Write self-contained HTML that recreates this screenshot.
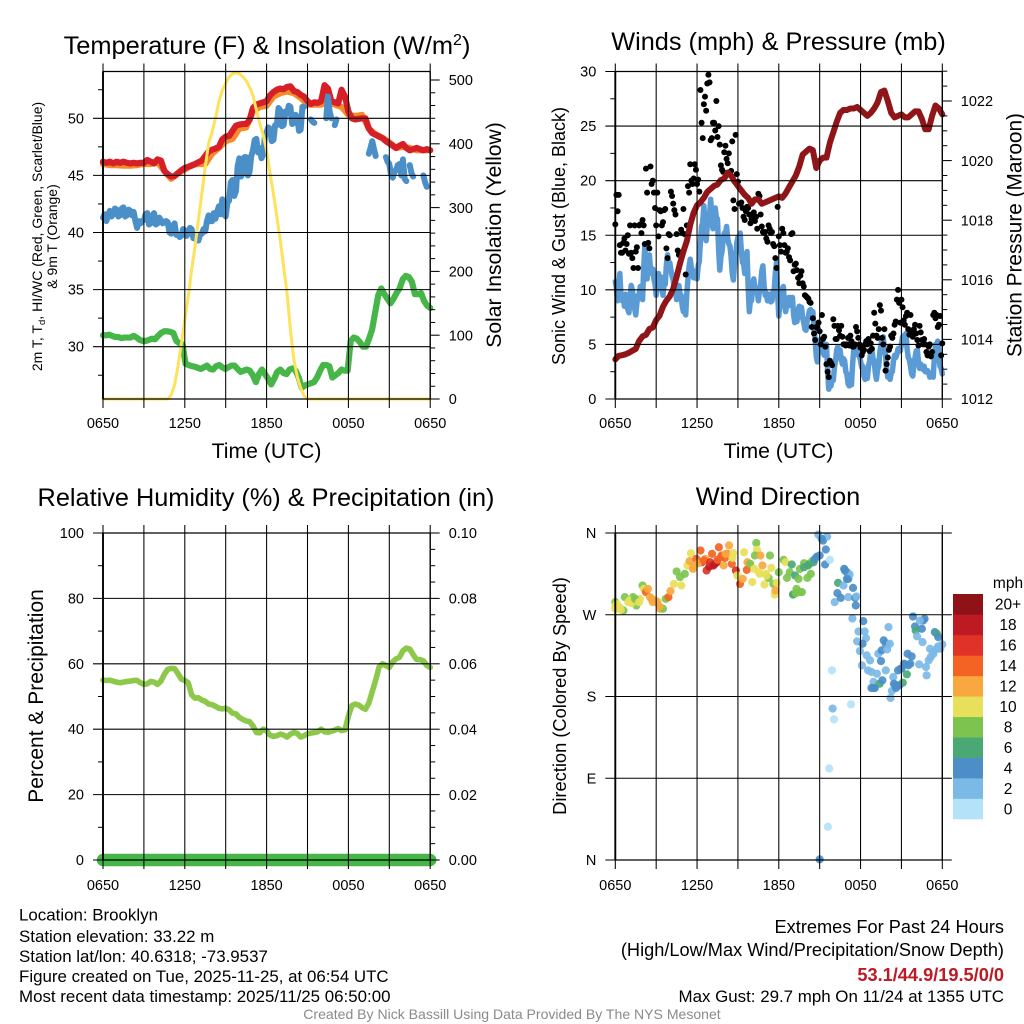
<!DOCTYPE html>
<html lang="en">
<head>
<meta charset="utf-8">
<title>NYS Mesonet Meteogram - Brooklyn</title>
<style>
html,body{margin:0;padding:0;background:#fff}
svg{display:block}
text{font-family:"Liberation Sans",sans-serif;fill:#000}
</style>
</head>
<body>
<svg id="chart" xmlns="http://www.w3.org/2000/svg" width="1024" height="1024" viewBox="0 0 1024 1024">
<rect x="0" y="0" width="1024" height="1024" fill="#fff"/>

<text x="267" y="54" font-size="25.4" text-anchor="middle">Temperature (F) &amp; Insolation (W/m<tspan dy="-9" font-size="16">2</tspan><tspan dy="9">)</tspan></text>
<text x="778.5" y="50" font-size="25.3" text-anchor="middle">Winds (mph) &amp; Pressure (mb)</text>
<text x="266" y="506" font-size="25.3" text-anchor="middle">Relative Humidity (%) &amp; Precipitation (in)</text>
<text x="778" y="505" font-size="25.3" text-anchor="middle">Wind Direction</text>

<text transform="translate(42,236.5) rotate(-90)" font-size="14" text-anchor="middle">2m T, T<tspan dy="3" font-size="9.5">d</tspan><tspan dy="-3">, HI/WC (Red, Green, Scarlet/Blue)</tspan></text>
<text transform="translate(57,236.5) rotate(-90)" font-size="14" text-anchor="middle">&amp; 9m T (Orange)</text>
<text transform="translate(501,235) rotate(-90)" font-size="21.1" text-anchor="middle">Solar Insolation (Yellow)</text>
<text transform="translate(565,236) rotate(-90)" font-size="18" text-anchor="middle">Sonic Wind &amp; Gust (Blue, Black)</text>
<text transform="translate(1021.5,235) rotate(-90)" font-size="20.8" text-anchor="middle">Station Pressure (Maroon)</text>
<text transform="translate(43,696) rotate(-90)" font-size="21" text-anchor="middle">Percent &amp; Precipitation</text>
<text transform="translate(566,696) rotate(-90)" font-size="18.3" text-anchor="middle">Direction (Colored By Speed)</text>

<text x="266.5" y="458" font-size="21.2" text-anchor="middle">Time (UTC)</text>
<text x="778.5" y="458" font-size="21.2" text-anchor="middle">Time (UTC)</text>

<g>
<text x="19" y="920.5" font-size="16.9">Location: Brooklyn</text>
<text x="19" y="942" font-size="16.9">Station elevation: 33.22 m</text>
<text x="19" y="962" font-size="16.9">Station lat/lon: 40.6318; -73.9537</text>
<text x="19" y="982" font-size="16.9">Figure created on Tue, 2025-11-25, at 06:54 UTC</text>
<text x="19" y="1002" font-size="16.9">Most recent data timestamp: 2025/11/25 06:50:00</text>
</g>
<g>
<text x="1004" y="933" font-size="18.2" text-anchor="end">Extremes For Past 24 Hours</text>
<text x="1004" y="956" font-size="18.2" text-anchor="end">(High/Low/Max Wind/Precipitation/Snow Depth)</text>
<text x="1004" y="981" font-size="18.2" font-weight="bold" text-anchor="end" style="fill:#bd1a24">53.1/44.9/19.5/0/0</text>
<text x="1004" y="1002" font-size="16.9" text-anchor="end">Max Gust: 29.7 mph On 11/24 at 1355 UTC</text>
</g>
<text x="512" y="1019" font-size="14.05" text-anchor="middle" style="fill:#8a8a8a">Created By Nick Bassill Using Data Provided By The NYS Mesonet</text>
<text x="1008" y="588" font-size="15.5" text-anchor="middle">mph</text>
</svg>

<script>
// ---- shared axis labels ----
const timeTickLabels = ['0650', '1250', '1850', '0050', '0650'];
const timeTickHours = [0, 6, 12, 18, 24];
const timeGridHours = [0, 3, 6, 9, 12, 15, 18, 21, 24];

// ---- temperature panel (samples spaced evenly over 24 h) ----
const airTempValues = [46.2,46.1,46.2,46.05,46.2,46.1,46.2,46.1,46.05,46.1,46.05,46.1,46.1,46.35,46.2,46.05,46.4,46.3,45.4,45.1,44.9,44.95,45.2,45.45,45.65,45.75,45.85,46,46.15,46.3,46.7,47.1,47.25,47.35,47.5,48.15,48.4,48.45,48.9,49.35,49.45,49.5,49.5,49.85,50.9,51.2,51.3,51.4,51.5,52,52.3,52.5,52.6,52.55,52.75,52.8,52.4,52.3,52.05,51.9,51.5,51.25,51.4,51.35,51.5,52.9,52.6,51.5,51.4,51.3,52.5,51.9,50.6,50,49.9,49.95,50,50,49.1,48.7,48.55,48.4,48.25,48,47.8,47.6,47.4,47.6,47.75,47.4,47.2,47.3,47.4,47.3,47.2,47.3,47.2];
const nineMeterTempValues = [46.0,45.9,45.9,45.85,45.85,45.9,46,46,46.15,45.4,44.7,45.2,45.5,45.9,46,46,46.9,47.4,48,48.2,49.1,49.2,50.6,51,51.1,51.9,52.2,52.35,52.2,51.8,51.2,51.2,51.2,51.4,51.2,51,50.3,50.2,50.3,49.1,48.6,48.3,47.9,47.4,47.5,47.4,47.2,47.2,47.2];
const windChillValues = [41.3,41.6,41.0,41.5,41.9,41.4,41.6,42.1,42.0,41.4,41.5,42.1,42.2,41.4,41.5,42,41.9,41.5,41.8,41,40.4,41,40.8,41,41.1,41.6,41.7,40.7,40.8,41.5,41.7,40.7,40.8,41.3,41.1,40.8,40.9,41,40.9,40,39.9,40.6,40.8,39.8,39.8,39.6,39.7,40.3,40.2,39.7,39.9,40.4,40.3,39.5,39.7,39.3,39.3,39.8,39.9,40.3,40.1,41,41.5,41,41.0,41.7,41.2,41.8,42.3,41.6,42.9,41.6,41.4,42.6,42.8,44.4,44.6,43.2,43.6,45.8,46.5,44.9,45.2,46.6,46.6,45,45.3,46.7,47.2,48.1,48.2,47,47.4,46.5,46.8,48.4,48.8,49.2,49.1,48,48.1,49.4,49.4,50.9,50.7,49.3,49.4,50.6,50.4,51.1,51.0,49.5,49.6,50.3,50.1,48.9,49.0,51.0,51.0,null,null,null,49.9,49.7,49.6,null,null,null,null,null,null,50.0,51.9,50.6,50.0,null,49.4,49.9,null,null,null,null,null,null,null,null,null,null,null,null,null,null,null,null,null,null,46.9,47.4,48,47.3,46.7,null,null,null,null,null,46.6,46.2,46,45.1,44.8,45.3,45.5,45.9,46,45,46.4,44.7,44.5,null,45.9,45.2,44.9,null,null,null,null,null,45,44.4,44,null,null];
const dewPointValues = [31,31,31.05,30.95,30.85,30.85,30.75,30.8,30.8,30.8,30.95,30.8,30.6,30.5,30.5,30.6,30.7,30.65,30.95,31.2,31.35,31.35,31.3,31.2,30.5,30.3,30.2,28.5,28.4,28.3,28.25,28.15,28.05,28.2,28.35,28.05,28.0,28.3,28.4,28.2,28.05,28.2,28.35,28.35,28.05,27.8,27.9,28.0,27.9,27.5,26.9,27.6,28.0,27.6,27.2,26.7,27.2,27.8,28.0,27.7,27.6,28,28.1,27.9,27.3,26.4,26.6,26.7,26.8,26.9,27.3,27.9,28.4,28.4,28.3,27.3,27.5,27.7,28.0,27.9,27.9,30.5,30.8,30.7,30.4,30.0,30.0,30.7,31.5,33,34.5,35.1,34.6,34.2,33.8,34.2,34.7,35.1,35.9,36.2,36.1,35.7,34.6,34.6,34.7,34.0,33.6,33.4];
const solarValues = [0,0,0,0,0,0,0,0,0,0,0,0,0,0,0,0,0,0,0,0,6,22,51,87,124,160,202,239,281,322,364,401,419,440,466,484,495,505,510,511,510,505,499,489,476,453,432,414,390,354,322,286,249,207,166,108,61,35,17,5,0,0,0,0,0,0,0,0,0,0,0,0,0,0,0,0,0,0,0,0,0,0,0,0,0,0,0,0,0,0,0,0,0,0,0,0,0];
const tempMajorTicks = [30, 35, 40, 45, 50];
const tempMinorTicks = [27.5, 32.5, 37.5, 42.5, 47.5, 52.5];
const solarMajorTicks = [0, 100, 200, 300, 400, 500];
const solarMinorTicks = [20,40,60,80,120,140,160,180,220,240,260,280,320,340,360,380,420,440,460,480];

// ---- winds and pressure panel ----
const sonicWindValues = [10.75,10.2,9,10.3,11.5,9.5,9,9.4,8.5,9.6,9.1,8.2,7.9,9.2,10.4,10,9,8.3,7.7,8.8,9.5,9.6,10.3,9.8,9.1,12,14,12.1,11,12.6,13.2,12,11.5,11.9,11,10.5,9.5,10.3,11.5,10.8,11.2,10.2,9.5,10.6,10.5,12.3,13.2,12.2,12.5,11.8,11.3,10.9,10,9.9,9.1,10.2,10.4,9.6,9.5,8.5,8,8.4,7.7,9.7,11,12.2,12.8,12,11.8,11.1,11.2,11.5,11,12.2,12.6,14.5,15.8,16.2,17.7,15.8,14.5,15.9,16.7,16.9,18.3,16.5,15.6,16.9,17.5,16.6,16.5,13.7,11.8,13,13.5,14.7,15.2,15.1,15.8,14.7,14.2,14,13,11.5,10.9,12.3,13,14.3,14.8,14.5,15.2,13.5,12.5,12.4,11.5,12.9,13.5,10.3,8,9,9,10.4,11,10.1,10,9.9,9,10,10.5,11.7,12.2,10.4,9.5,9.7,9,9.6,9.5,8.9,9,9.9,10,11.6,12.5,9.6,7.6,8.7,9,10,10.3,8.8,8,8.6,8.5,9.3,9.3,8.8,9.3,7.8,7,7.6,7.1,8.1,8.5,8.2,8.4,7.4,7,6.4,6.3,7.2,7.5,8.1,8.2,7.8,8,6.4,5.5,3.9,3.4,4.6,5,5.5,5.2,4.3,4,4.8,5,2.5,0.9,1.4,1.2,1.9,1.7,2.9,3.5,4.5,4.8,4.3,4.5,3.6,3.2,3.7,3.5,2.5,2.3,1.4,1.2,1.6,1.3,3.2,4.5,5,4.9,4.2,4,3.9,3.5,2.9,3,2.1,1.8,2.2,1.9,3,3.5,4.3,4.5,3.7,3.5,2.4,1.8,2.7,3,4.3,5,5.6,5.7,4.5,4,2.7,2,2.2,1.8,2.4,2.5,3.5,4,3.8,4.1,4.6,4.5,4.4,5,5.7,5.8,5.6,6,4.6,3.8,3.6,3,2.3,2.1,3.2,3.8,4.4,4.5,3.4,2.8,3.2,2.9,2.7,3,2.5,2.5,2.6,2.4,2,2.1,2.3,2,3.8,5,5,5.3,3.9,3,2.8,2.3];
const gustValues = [16.0,18.7,17.2,18.7,14.1,13.4,13.4,14.3,14.7,13.6,14.2,15,13.3,15.9,13.4,12.9,12,15.9,13.5,13.9,12,15.9,16,15.2,16.4,15.9,14.2,21.1,18.9,14.3,13.8,21.3,19.7,20,18.9,17.5,15.9,18.9,14.9,17.3,17.2,15.9,16.2,17.3,17.4,13.8,12.9,15.1,15,19,18.6,17.9,17.3,16.9,15.1,13.6,13.2,13.4,15.5,15.2,17.4,15.1,11.4,15.9,19.5,18.9,21.5,20,19.7,20.2,21.5,21,19.7,20.1,19,28.3,25.3,23.9,27,27.7,26.4,28.9,29.7,29.0,23.7,23.9,25.3,25.3,24.6,27.3,24,25,23.3,21.4,21,20.8,22.6,23.2,22,21.6,22.5,20.6,20.9,23.6,18.2,17.4,24.2,20.6,19.9,17.9,19.2,18.0,17.5,16.7,16.4,17.2,17.6,17.5,16.9,16.1,16.5,16.9,17.1,16.3,16.7,15.6,18.8,18.6,16.9,15.8,15.3,15.2,15.3,14.7,14.4,15.9,15.6,15.2,15.3,14.2,14.0,12.9,12.0,17.6,14.9,14.1,13.5,15.6,15.2,14.1,13.4,13.5,13.8,13.0,12.7,15.1,15.2,11.7,12.3,12.4,11.8,11.1,10.6,11.3,11.7,10.6,10.3,9.5,9.4,9.3,9.2,8.9,8.8,6.6,7.4,6.0,5.4,6.6,6.5,7.0,6.2,5.0,7.7,5.5,5.7,4.8,3.2,2.5,2.0,3.5,3.3,3.1,7.3,6.7,5.5,5.5,6.7,6.3,5.8,6.7,5.7,5.0,5.0,4.9,5.0,5.6,4.9,5.8,5.3,4.8,4.8,5.0,6.6,6.2,5.6,5.0,4.7,4.0,4.3,4.5,5.0,5.3,5.0,5.5,4.4,5.1,4.6,5.8,7.9,6.9,5.8,5.6,6.4,8.6,8.1,5.6,5.0,6.4,2.6,3.2,3.8,4.5,4.8,5.8,5.6,6.0,6.8,7.1,9.1,10,8.8,7.0,9.1,8.4,7.2,6.8,7.6,7.9,6.4,5.9,7.7,6.2,5.7,6.4,6.8,6.0,5.4,4.9,6.7,6.1,5.4,5.0,5.5,5.0,4.3,4.0,4.8,5.0,3.9,4.3,7.7,7.9,7.4,7.7,6.6,6.8,7.6,4.0,5.1];
const pressureValues = [1013.33,1013.45,1013.47,1013.5,1013.55,1013.62,1013.68,1013.95,1014.1,1014.15,1014.35,1014.4,1014.65,1014.8,1015.1,1015.3,1015.45,1015.7,1016.1,1016.55,1016.95,1017.3,1017.85,1018.25,1018.5,1018.6,1018.75,1018.95,1019.05,1019.15,1019.2,1019.35,1019.4,1019.6,1019.5,1019.3,1019.15,1019.0,1018.85,1018.75,1018.55,1018.7,1018.7,1018.55,1018.6,1018.65,1018.7,1018.75,1018.8,1018.75,1018.9,1019.1,1019.3,1019.5,1019.8,1020.2,1020.3,1020.4,1020.35,1019.75,1020,1020.1,1020.1,1020.6,1020.95,1021.3,1021.6,1021.7,1021.7,1021.75,1021.75,1021.8,1021.7,1021.6,1021.5,1021.6,1021.75,1021.95,1022.3,1022.35,1022,1021.6,1021.45,1021.5,1021.55,1021.45,1021.45,1021.55,1021.65,1021.65,1021.4,1021.05,1021.05,1021.5,1021.85,1021.75,1021.55];
const windMajorTicks = [0, 5, 10, 15, 20, 25, 30];
const windMinorTicks = [2.5, 7.5, 12.5, 17.5, 22.5, 27.5];
const pressureMajorTicks = [1012, 1014, 1016, 1018, 1020, 1022];
const pressureMinorTicks = [1012.5,1013,1013.5,1014.5,1015,1015.5,1016.5,1017,1017.5,1018.5,1019,1019.5,1020.5,1021,1021.5,1022.5,1023];

// ---- humidity and precipitation panel ----
const humidityValues = [55,54.9,55,54.7,54.4,54.2,54.4,54.6,54.7,54.9,54.9,54.2,53.7,53.9,54.6,54.4,53.7,54.7,56.8,58.3,58.6,58.5,57,55.3,54.9,54.2,50.5,49.5,49.6,48.9,48.5,47.7,47.5,47,46.4,46.2,46.4,45.9,44.9,44.7,43.6,43,42.5,42.3,41,39,38.9,40,39.5,38.2,37.8,38,38.5,38.2,37.6,38.5,39,38.7,37.6,38,38.6,38.8,39,39.2,40,39.2,39.1,39.4,39.7,40.2,39.6,39.8,44,47.2,47.7,47.4,46.6,46.1,48,51.5,55,59,60,59.5,58.9,60.6,61.5,62,64,64.8,64.5,62.8,61.3,61.3,60.9,59.5,58.9];
const precipValues = [0,0,0,0,0,0,0,0,0,0,0,0,0,0,0,0,0,0,0,0,0,0,0,0,0];
const percentMajorTicks = [0, 20, 40, 60, 80, 100];
const percentMinorTicks = [10, 30, 50, 70, 90];
const precipMajorTicks = [0, 0.02, 0.04, 0.06, 0.08, 0.1];
const precipTickLabels = ['0.00', '0.02', '0.04', '0.06', '0.08', '0.10'];
const precipMinorTicks = [0.005,0.01,0.015,0.025,0.03,0.035,0.045,0.05,0.055,0.065,0.07,0.075,0.085,0.09,0.095];

// ---- wind direction panel ----
const dirHours = [0,0,0.15,0.35,0.6,0.7,0.95,1.2,1.3,1.55,1.8,2,2.1,2.25,2.4,2.65,2.9,3.1,3.3,3.5,3.7,3.9,4.05,4.3,4.5,4.75,4.85,5.1,5.3,5.55,5.7,5.45,5.95,6.25,6.35,6.6,6.7,6.9,7.1,7.3,7.45,7.6,7.8,7.95,8.2,8.35,8.55,8.65,8.85,8.95,9.15,9.35,9.45,9.65,9.7,9.9,10.05,10.2,10.35,10.4,10.25,10.65,10.8,10.6,10.95,11.05,11.25,11.35,11.45,11.6,11.7,11.75,11.85,12,12.35,12.5,12.6,12.8,12.95,13.05,13.2,13.3,13.45,13.55,13.7,13.85,14.1,14.35,14.25,14.45,14.8,14.9,15,15.25,15.4,15.45,15.55,15.75,15.6,15.7,15.9,15.95,16.05,17.3,16.1,16.3,16.35,16.55,16.75,16.8,17,17.1,17.2,17.1,17.45,17.6,17.65,17.7,17.4,17.85,18.2,18.3,18.4,17.75,18.15,17.95,18.45,18.7,18.1,18.55,18.8,19.2,18.95,19.4,18.8,19.05,19.6,19.3,19.55,19.5,19.7,19.85,20.15,19.95,20.05,19.85,20.2,20.3,20.4,20.45,20.6,20.75,20.85,21.1,21,21.2,21.4,21.5,21.45,21.75,21.85,22,22.05,22.15,22.3,22.5,22.6,22.7,22.55,22.85,22.8,23.1,23.15,23.35,23.45,23.6,23.7,23.85,24,0,0.1,0.2,0.4,1.05,1.2,1.45,1.75,2.55,2.75,3.05,3.25,5.75,6.1,6.5,6.95,7.2,7.5,7.75,8.05,8.1,8.6,10.55,11.1,13.05,13.25,13.55,13.85,14.15,14.55,14.65,15,15.15,16.85,17,18.95,20.55,20.7,20.95,21.25,21.65,23,23.3,23.6,23.7,22.35];
const dirDegrees = [276.6,283.9,280,277.7,274.7,289.4,283.9,285.7,289.4,280.2,287.5,302.2,298.5,294.9,298.5,287.5,285.7,284.6,276.6,276.6,287.5,289.4,296,304,317.6,311.4,302.2,315,324.2,337.7,320.5,329,331.5,340.7,327.8,331.5,318.7,323,337,326,327.8,344.3,335.2,324.2,337,346.2,326,338,318.7,313.2,304,309.5,338.8,319.4,327.8,326,305.9,320.5,349,341.4,335.2,335.2,324.2,315,303.3,315,310.6,335.2,321.6,304,292.3,296.7,305.1,316.8,330.4,327.8,310.6,316.8,325.3,292.3,313.2,298.5,309.5,320.5,294.9,326.7,310.6,315,326,329,334,358.2,0.7,351.6,325.3,341.8,356,330.4,36.6,100.7,208.8,166.7,154.9,171.4,283.9,293.8,305.1,288.6,302.2,320.5,316.8,309.5,314.3,289.4,299.6,288.6,280.2,290.1,265.9,251.6,263,251.6,244.3,240.7,238.1,230,225.3,219.8,214.3,208.8,207,205.1,196,194.1,189.4,189.4,197.8,227.1,230.8,219,241.8,238.1,238.1,231.9,256.4,208.8,178.4,186.1,201.5,194.1,189.4,208.8,192.3,195.2,210.6,216.1,204.4,214.3,227.1,224.2,268.1,257.1,252.7,246.2,215.4,254.6,263.7,265.6,239.9,203.3,212.5,232.6,223.4,227.1,250.9,249.1,245.4,232.6,237.4,279.1,282,277.7,275.5,285.7,282.8,287.5,283.9,289.4,283.9,283.9,279.1,324.2,326.7,329.7,327.8,324.2,330.4,333.3,332.6,337,332.6,316.8,313.2,292.3,293.8,294.9,322.3,324.2,327.8,331.5,335.2,353.5,318.7,309.5,189.4,192.3,192.3,210.6,215.4,216.1,219.8,228.9,232.6,235.2,263.7];
const dirSpeeds = [10,8,10,10,8,8,10,10,8,8,10,8,10,14,12,12,12,10,12,8,8,14,12,10,8,8,10,8,10,10,12,12,14,14,16,12,16,18,14,18,18,14,14,12,14,12,14,10,16,10,14,12,10,14,12,8,10,10,8,10,8,12,12,10,10,10,8,8,10,8,10,12,10,8,8,10,8,8,6,8,6,8,8,8,8,8,8,8,6,8,4,2,4,4,4,4,2,0,0,0,0,2,0,0,2,4,6,4,2,4,4,4,2,2,4,4,4,2,2,2,4,2,2,2,4,2,2,2,2,2,2,2,2,6,4,4,4,2,4,4,4,4,2,2,2,2,2,2,2,4,4,4,4,6,4,4,6,4,4,4,4,4,6,2,2,4,4,4,2,2,2,2,2,2,4,6,4,2,2,10,10,10,10,10,10,8,10,12,12,12,12,12,12,14,16,18,14,14,14,12,10,10,10,6,8,8,6,6,6,4,4,4,4,4,4,4,4,4,4,4,2,2,2,2,2];
const directionTicks = [0, 90, 180, 270, 360];
const directionLabels = ['N', 'E', 'S', 'W', 'N'];

// ---- speed colour bar ----
const speedColors = ['#b3e2f9', '#7bb9e6', '#4b8ec8', '#4aa874', '#7cc44f', '#e8e05a', '#f9a83f', '#f46324', '#e03226', '#bd1a24', '#8f1216'];
const speedBarLabels = ['0', '2', '4', '6', '8', '10', '12', '14', '16', '18', '20+'];

const SVGNS = 'http://www.w3.org/2000/svg';
const svg = document.getElementById('chart');

function addLine(parent, x1, y1, x2, y2, width, name) {
  const el = document.createElementNS(SVGNS, 'line');
  
  
  el.setAttribute('x1', x1);
  el.setAttribute('y1', y1);
  el.setAttribute('x2', x2);
  el.setAttribute('y2', y2);
  el.setAttribute('stroke', '#000');
  el.setAttribute('stroke-width', width);
  parent.appendChild(el);
  return el;
}

function addText(parent, x, y, str, anchor, name) {
  const el = document.createElementNS(SVGNS, 'text');
  
  
  el.setAttribute('x', x);
  el.setAttribute('y', y);
  el.setAttribute('font-size', '14.5');
  el.setAttribute('text-anchor', anchor);
  el.textContent = str;
  parent.appendChild(el);
  return el;
}

function addGroup(name) {
  const el = document.createElementNS(SVGNS, 'g');
  
  
  svg.appendChild(el);
  return el;
}

// Draws a series sampled uniformly over 24 h; null values break the line.
function addSeries(parent, values, xOf, yOf, color, width, name) {
  let d = '';
  let open = false;
  values.forEach(function (v, i) {
    if (v === null) { open = false; return; }
    const x = xOf(i * 24 / (values.length - 1)).toFixed(2);
    const y = yOf(v).toFixed(2);
    d += (open ? 'L' : 'M' + x + ' ' + y + 'L') + x + ' ' + y;
    open = true;
  });
  const el = document.createElementNS(SVGNS, 'path');
  
  
  el.setAttribute('d', d);
  el.setAttribute('fill', 'none');
  el.setAttribute('stroke', color);
  el.setAttribute('stroke-width', width);
  el.setAttribute('stroke-linecap', 'round');
  el.setAttribute('stroke-linejoin', 'round');
  parent.appendChild(el);
  return el;
}

function addDot(parent, cx, cy, r, color, opacity, name) {
  const el = document.createElementNS(SVGNS, 'circle');
  
  
  el.setAttribute('cx', cx);
  el.setAttribute('cy', cy);
  el.setAttribute('r', r);
  el.setAttribute('fill', color);
  el.setAttribute('fill-opacity', opacity);
  parent.appendChild(el);
  return el;
}

function linear(d0, d1, r0, r1) {
  return function (v) { return r0 + (v - d0) * (r1 - r0) / (d1 - d0); };
}

// Frame, gridlines, ticks and labels; drawn after the data so the lines sit on top.
function drawAxes(parent, box, xOf, leftY, leftMajor, leftLabels, leftMinor, rightY, rightMajor, rightLabels, rightMinor, xLabelY) {
  timeGridHours.forEach(function (h) {
    addLine(parent, xOf(h), box.top - 8, xOf(h), box.bottom + 9, 1.05, 'time-gridline');
  });
  timeTickHours.forEach(function (h, i) {
    addText(parent, xOf(h), xLabelY, timeTickLabels[i], 'middle', 'time-tick-label');
  });
  leftMajor.forEach(function (v, i) {
    addLine(parent, box.left - 10, leftY(v), box.right, leftY(v), 1.05, 'left-axis-gridline');
    addText(parent, box.left - 19, leftY(v) + 5, leftLabels[i], 'end', 'left-axis-tick-label');
  });
  leftMinor.forEach(function (v) {
    addLine(parent, box.left - 5, leftY(v), box.left, leftY(v), 1, 'left-axis-minor-tick');
  });
  rightMajor.forEach(function (v, i) {
    addLine(parent, box.right, rightY(v), box.right + 9.5, rightY(v), 1.05, 'right-axis-tick');
    if (rightLabels.length) {
      addText(parent, box.right + 18.5, rightY(v) + 5.2, rightLabels[i], 'start', 'right-axis-tick-label');
    }
  });
  rightMinor.forEach(function (v) {
    addLine(parent, box.right, rightY(v), box.right + 5, rightY(v), 1, 'right-axis-minor-tick');
  });
  addLine(parent, box.left, box.top, box.right, box.top, 1.2, 'frame-top');
  addLine(parent, box.left, box.bottom, box.right, box.bottom, 1.2, 'frame-bottom');
  addLine(parent, box.left, box.top, box.left, box.bottom, 1.9, 'frame-left');
  addLine(parent, box.right, box.top, box.right, box.bottom, 1.3, 'frame-right');
}

// ---- panel 1: temperature and insolation ----
const box1 = { left: 103, right: 430.2, top: 71.5, bottom: 399 };
const x1 = linear(0, 24, box1.left, box1.right);
const tempY = linear(30, 50, 346.7, 118.3);
const solarY = linear(0, 500, 399, 80);
const panel1 = addGroup('temperature-panel');
addSeries(panel1, nineMeterTempValues, x1, tempY, '#f58a2a', 6.2, 'nine-meter-temperature-line');
addSeries(panel1, airTempValues, x1, tempY, '#d61f26', 6.2, 'air-temperature-line');
addSeries(panel1, windChillValues, x1, tempY, '#4b8fc9', 6, 'wind-chill-line');
addSeries(panel1, dewPointValues, x1, tempY, '#47b649', 6.2, 'dew-point-line');
addSeries(panel1, solarValues, x1, solarY, '#fde25a', 3, 'solar-insolation-line');
drawAxes(panel1, box1, x1, tempY, tempMajorTicks, tempMajorTicks, tempMinorTicks, solarY, solarMajorTicks, solarMajorTicks, solarMinorTicks, 428);

// ---- panel 2: winds and pressure ----
const box2 = { left: 615.3, right: 942.3, top: 71.5, bottom: 399 };
const x2 = linear(0, 24, box2.left, box2.right);
const windY = linear(0, 30, 399, 71.5);
const pressureY = linear(1012, 1022, 399, 101);
const panel2 = addGroup('winds-panel');
addSeries(panel2, sonicWindValues, x2, windY, '#5a9bd5', 5.5, 'sonic-wind-line');
gustValues.forEach(function (v, i) {
  addDot(panel2, x2(i * 24 / (gustValues.length - 1)), windY(v), 3, '#000', 1, 'gust-point');
});
addSeries(panel2, pressureValues, x2, pressureY, '#8f1518', 6, 'station-pressure-line');
drawAxes(panel2, box2, x2, windY, windMajorTicks, windMajorTicks, windMinorTicks, pressureY, pressureMajorTicks, pressureMajorTicks, pressureMinorTicks, 428);

// ---- panel 3: humidity and precipitation ----
const box3 = { left: 103, right: 430.2, top: 533, bottom: 860 };
const x3 = linear(0, 24, box3.left, box3.right);
const percentY = linear(0, 100, 860, 533);
const precipY = linear(0, 0.1, 860, 533);
const panel3 = addGroup('humidity-panel');
addSeries(panel3, humidityValues, x3, percentY, '#8dc84a', 5.6, 'relative-humidity-line');
addSeries(panel3, precipValues, x3, precipY, '#47b649', 12.5, 'precipitation-line');
drawAxes(panel3, box3, x3, percentY, percentMajorTicks, percentMajorTicks, percentMinorTicks, precipY, precipMajorTicks, precipTickLabels, precipMinorTicks, 890);

// ---- panel 4: wind direction ----
const box4 = { left: 615.3, right: 942.3, top: 533, bottom: 860 };
const x4 = linear(0, 24, box4.left, box4.right);
const directionY = linear(0, 360, 860, 533);
const panel4 = addGroup('wind-direction-panel');
dirHours.forEach(function (h, i) {
  const bin = Math.min(speedColors.length - 1, Math.floor(dirSpeeds[i] / 2));
  addDot(panel4, x4(h), directionY(dirDegrees[i]), 4.1, speedColors[bin], 0.92, 'wind-direction-point');
});
drawAxes(panel4, box4, x4, directionY, directionTicks, directionLabels, [], directionY, directionTicks, [], [], 890);

// ---- speed colour bar ----
const colorbar = addGroup('speed-colorbar');
const barTop = 594;
const cellHeight = 225 / speedColors.length;
speedColors.forEach(function (c, i) {
  const rowTop = barTop + (speedColors.length - 1 - i) * cellHeight;
  const cell = document.createElementNS(SVGNS, 'rect');
  
  
  cell.setAttribute('x', 953);
  cell.setAttribute('y', rowTop);
  cell.setAttribute('width', 30);
  cell.setAttribute('height', cellHeight + 0.3);
  cell.setAttribute('fill', c);
  colorbar.appendChild(cell);
  const label = addText(colorbar, 1008, rowTop + cellHeight / 2 + 5.5, speedBarLabels[i], 'middle', 'colorbar-label');
  label.setAttribute('font-size', '15.5');
});
</script>
</body>
</html>
